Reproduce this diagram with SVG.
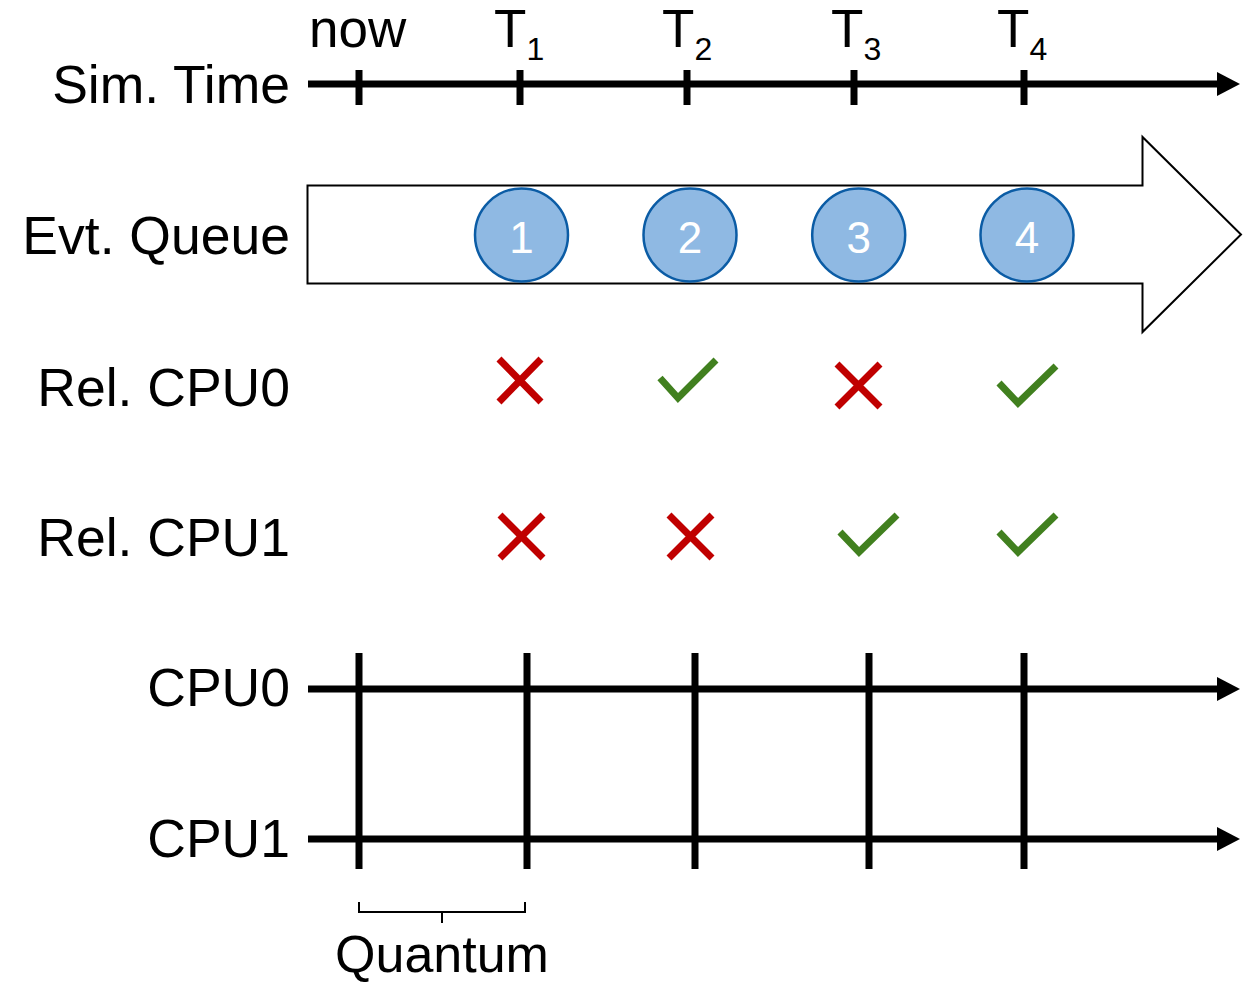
<svg xmlns="http://www.w3.org/2000/svg" width="1253" height="982" viewBox="0 0 1253 982">
<style>
text{font-family:"Liberation Sans",Arial,sans-serif;fill:#000}
.lbl{font-size:53.5px;text-anchor:end}
.top{font-size:53px}
.sub{font-size:32px}
.ax{stroke:#000;stroke-width:7;fill:none}
.tick{stroke:#000;stroke-width:7;fill:none}
.grid{stroke:#000;stroke-width:7;fill:none}
.ev{fill:#8FB9E3;stroke:#0B5CA5;stroke-width:2.5}
.evt{font-size:44px;fill:#fff;text-anchor:middle}
.x{stroke:#C00000;stroke-width:7;fill:none}
.ok{stroke:#41801F;stroke-width:7;fill:none}
</style>
<rect width="1253" height="982" fill="#fff"/>

<g id="labels">
<text class="lbl" x="290" y="103">Sim. Time</text>
<text class="lbl" x="290" y="254">Evt. Queue</text>
<text class="lbl" x="290" y="406">Rel. CPU0</text>
<text class="lbl" x="290" y="556">Rel. CPU1</text>
<text class="lbl" x="290" y="706">CPU0</text>
<text class="lbl" x="290" y="857">CPU1</text>
</g>

<g id="sim-time-axis">
<line class="ax" x1="308" y1="84" x2="1218" y2="84"/>
<path d="M1217,72 L1240,84 L1217,96 Z" fill="#000"/>
<line class="tick" x1="359" y1="70" x2="359" y2="105"/>
<line class="tick" x1="520" y1="70" x2="520" y2="105"/>
<line class="tick" x1="687" y1="70" x2="687" y2="105"/>
<line class="tick" x1="854" y1="70" x2="854" y2="105"/>
<line class="tick" x1="1024" y1="70" x2="1024" y2="105"/>
<text class="top" x="309" y="47">now</text>
<text class="top" x="494" y="47">T<tspan class="sub" dy="13">1</tspan></text>
<text class="top" x="662" y="47">T<tspan class="sub" dy="13">2</tspan></text>
<text class="top" x="831" y="47">T<tspan class="sub" dy="13">3</tspan></text>
<text class="top" x="997" y="47">T<tspan class="sub" dy="13">4</tspan></text>
</g>

<g id="event-queue">
<path d="M307.5,185.5 L1142.5,185.5 L1142.5,137 L1241,234.5 L1142.5,332 L1142.5,283.5 L307.5,283.5 Z" fill="#fff" stroke="#000" stroke-width="2"/>
</g>
<g id="event-1"><circle class="ev" cx="521.5" cy="235" r="46.5"/><text class="evt" x="521.5" y="253">1</text></g>
<g id="event-2"><circle class="ev" cx="690" cy="235" r="46.5"/><text class="evt" x="690" y="253">2</text></g>
<g id="event-3"><circle class="ev" cx="858.7" cy="235" r="46.5"/><text class="evt" x="858.7" y="253">3</text></g>
<g id="event-4"><circle class="ev" cx="1027" cy="235" r="46.5"/><text class="evt" x="1027" y="253">4</text></g>

<g id="rel-cpu0">
<path class="x" d="M499,359 L541,402 M541,359 L499,402"/>
<path class="ok" d="M660,378 L678,398 L716,360"/>
<path class="x" d="M837,364 L880,407 M880,364 L837,407"/>
<path class="ok" d="M999,383 L1018,403 L1056,366"/>
</g>

<g id="rel-cpu1">
<path class="x" d="M500,515 L543,558 M543,515 L500,558"/>
<path class="x" d="M669,515 L712,558 M712,515 L669,558"/>
<path class="ok" d="M840,532 L859,552 L897,515"/>
<path class="ok" d="M999,532 L1018,552 L1056,515"/>
</g>

<g id="cpu-timelines">
<line class="grid" x1="308" y1="689" x2="1218" y2="689"/>
<path d="M1217,677 L1240,689 L1217,701 Z" fill="#000"/>
<line class="grid" x1="308" y1="839" x2="1218" y2="839"/>
<path d="M1217,827 L1240,839 L1217,851 Z" fill="#000"/>
<line class="grid" x1="359" y1="653" x2="359" y2="869"/>
<line class="grid" x1="527" y1="653" x2="527" y2="869"/>
<line class="grid" x1="695" y1="653" x2="695" y2="869"/>
<line class="grid" x1="869" y1="653" x2="869" y2="869"/>
<line class="grid" x1="1024" y1="653" x2="1024" y2="869"/>
</g>

<g id="quantum">
<path d="M359,902 L359,912 L442,912 L442,923 M442,912 L525,912 L525,902" fill="none" stroke="#000" stroke-width="2"/>
<text x="442" y="972" style="font-size:52px;text-anchor:middle">Quantum</text>
</g>
</svg>
